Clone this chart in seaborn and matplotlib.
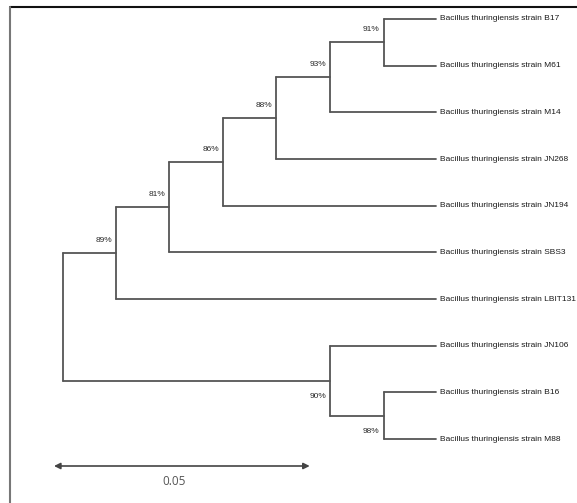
import matplotlib
matplotlib.use("Agg")
import matplotlib.pyplot as plt
from matplotlib.lines import Line2D
import seaborn as sns
import pandas as pd
import numpy as np

# ---------------- data ----------------
leaf_names = [
    "Bacillus thuringiensis strain B17",
    "Bacillus thuringiensis strain M61",
    "Bacillus thuringiensis strain M14",
    "Bacillus thuringiensis strain JN268",
    "Bacillus thuringiensis strain JN194",
    "Bacillus thuringiensis strain SBS3",
    "Bacillus thuringiensis strain LBIT131",
    "Bacillus thuringiensis strain JN106",
    "Bacillus thuringiensis strain B16",
    "Bacillus thuringiensis strain M88",
]
tip_depth = 0.0731

# internal nodes: name, depth (substitutions/site from root), bootstrap, children
node_names = ["root", "n89", "n81", "n86", "n88", "n93", "n91", "n90", "n98"]
node_depths = [0.0, 0.0105, 0.0209, 0.0314, 0.0418, 0.0523, 0.0628, 0.0523, 0.0628]
node_support = ["", "89%", "81%", "86%", "88%", "93%", "91%", "90%", "98%"]
node_children = [
    ["n89", "n90"],
    ["n81", 6],
    ["n86", 5],
    ["n88", 4],
    ["n93", 3],
    ["n91", 2],
    [0, 1],
    [7, "n98"],
    [8, 9],
]
# where the support label sits relative to the incoming branch
support_side = ["", "above", "above", "above", "above", "above", "above", "below", "below"]

scale_len = 0.05
scale_label = "0.05"

# ---------------- layout ----------------
sns.set_style("white")
plt.rcParams["font.family"] = ["Liberation Sans", "DejaVu Sans"]

W, H = 577, 503
fig = plt.figure(figsize=(W / 100, H / 100), dpi=100)
ax = fig.add_axes([0, 0, 1, 1])

px_per_unit = 5114.0
root_px = 62.6
x_left = -root_px / px_per_unit
x_right = (W - root_px) / px_per_unit
y0_px, dy_px = 19.0, 46.67
y_top = -y0_px / dy_px
y_bot = (H - y0_px) / dy_px

idx = {n: i for i, n in enumerate(node_names)}
node_y = {}


def get_y(c):
    if isinstance(c, int):
        return float(c)
    i = idx[c]
    if c not in node_y:
        node_y[c] = np.mean([get_y(ch) for ch in node_children[i]])
    return node_y[c]


def get_x(c):
    if isinstance(c, int):
        return tip_depth
    return node_depths[idx[c]]


get_y("root")

rows = []
seg = 0
for n in node_names:
    i = idx[n]
    nx = node_depths[i]
    ys = [get_y(c) for c in node_children[i]]
    rows += [dict(x=nx, y=min(ys), seg=seg), dict(x=nx, y=max(ys), seg=seg)]
    seg += 1
    for c in node_children[i]:
        rows += [dict(x=nx, y=get_y(c), seg=seg), dict(x=get_x(c), y=get_y(c), seg=seg)]
        seg += 1
df = pd.DataFrame(rows)

line_col = "#555555"
sns.lineplot(data=df, x="x", y="y", units="seg", estimator=None, sort=False,
             color=line_col, linewidth=1.3, legend=False, ax=ax)

# tip labels
for k, name in enumerate(leaf_names):
    ax.annotate(name, (tip_depth, k), xytext=(2.8, 0), textcoords="offset points",
                ha="left", va="center", fontsize=6.0, color="#1a1a1a")

# support labels
for n in node_names[1:]:
    i = idx[n]
    if support_side[i] == "above":
        off = (-3.0, 6.5)
        va = "bottom"
    else:
        off = (-3.0, -9)
        va = "top"
    ax.annotate(node_support[i], (node_depths[i], get_y(n)), xytext=off,
                textcoords="offset points", ha="right", va=va,
                fontsize=6.0, color="#2a2a2a")

# scale bar
sb_x0 = (54.0 - root_px) / px_per_unit
sb_y = (466.0 - y0_px) / dy_px
ax.annotate("", xy=(sb_x0, sb_y), xytext=(sb_x0 + scale_len, sb_y),
            arrowprops=dict(arrowstyle="<|-|>", color="#444444", lw=1.2,
                            mutation_scale=9, shrinkA=0, shrinkB=0))
ax.text(sb_x0 + scale_len * 0.47, (482.0 - y0_px) / dy_px, scale_label,
        ha="center", va="center", fontsize=8.5, color="#555555",
        family=["Open Sans", "DejaVu Sans"])

ax.set_xlim(x_left, x_right)
ax.set_ylim(y_bot, y_top)
ax.axis("off")

# image frame (top and left edges)
fig.add_artist(Line2D([9.5 / W, 1], [1 - 7 / H, 1 - 7 / H], transform=fig.transFigure,
                      color="#111111", lw=1.5))
fig.add_artist(Line2D([9.5 / W, 9.5 / W], [0, 1 - 7 / H], transform=fig.transFigure,
                      color="#777777", lw=1.5))

fig.savefig("out.png", dpi=100)
